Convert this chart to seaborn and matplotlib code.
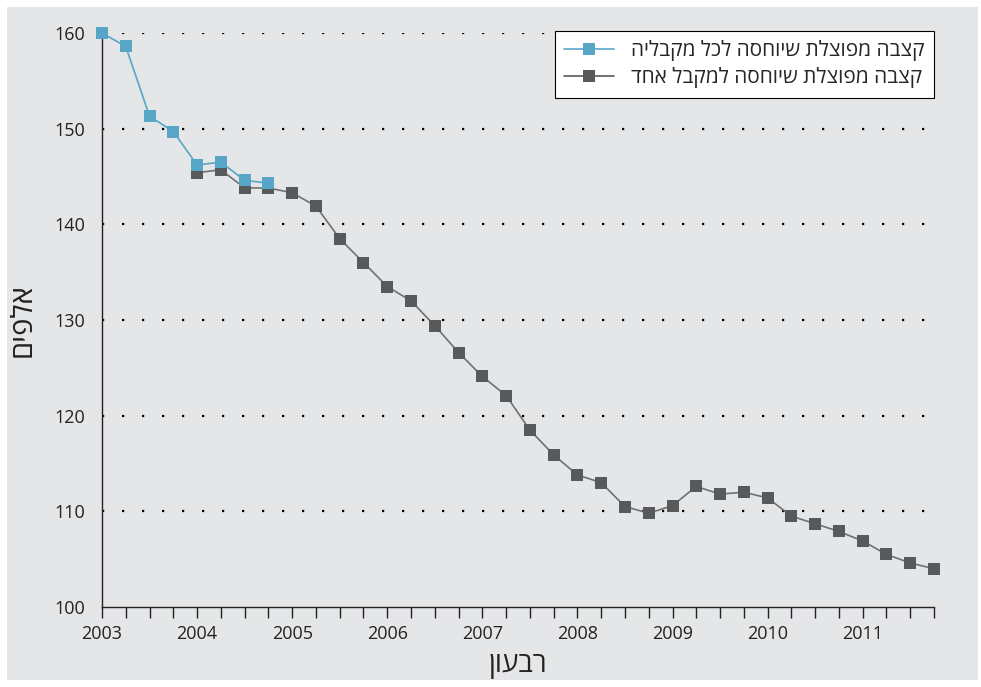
import numpy as np
import pandas as pd
import matplotlib
matplotlib.use('Agg')
import matplotlib.pyplot as plt
from matplotlib.patches import Rectangle
from matplotlib.ticker import MultipleLocator
import seaborn as sns

# quarterly values, thousands
s1_label = 'קצבה מפוצלת שיוחסה לכל מקבליה'
s1_start = 2003.0
s1_values = [160.0, 158.6, 151.3, 149.7, 146.2, 146.5, 144.6, 144.3]

s2_label = 'קצבה מפוצלת שיוחסה למקבל אחד'
s2_start = 2004.0
s2_values = [145.4, 145.7, 143.8, 143.8, 143.3, 141.9, 138.5, 136.0,
             133.5, 132.0, 129.4, 126.6, 124.1, 122.1, 118.5, 115.9,
             113.8, 113.0, 110.5, 109.8, 110.6, 112.6, 111.8, 112.0,
             111.4, 109.5, 108.7, 107.9, 106.9, 105.5, 104.6, 104.0]

year_ticks = [2003, 2004, 2005, 2006, 2007, 2008, 2009, 2010, 2011]
y_ticks = [100, 110, 120, 130, 140, 150, 160]
x_title = 'רבעון'
y_title = 'אלפים'


def rtl(s):
    # matplotlib has no bidi support, so flip hebrew to visual order
    return s[::-1]


def quarters(start, n):
    return [start + i / 4 for i in range(n)]


df = pd.concat([
    pd.DataFrame({'x': quarters(s1_start, len(s1_values)), 'y': s1_values, 'series': rtl(s1_label)}),
    pd.DataFrame({'x': quarters(s2_start, len(s2_values)), 'y': s2_values, 'series': rtl(s2_label)}),
])

sns.set_style('white')
plt.rcParams['font.family'] = ['Open Sans', 'DejaVu Sans']

bg = '#e5e6e8'
blue = '#57a6c8'
dark = '#58595b'

fig = plt.figure(figsize=(9.81, 6.87), dpi=100, facecolor='white')
fig.patches.append(Rectangle((7 / 981, 7 / 687), 971 / 981, 673 / 687,
                             transform=fig.transFigure, facecolor=bg,
                             edgecolor='none', zorder=-10))
ax = fig.add_axes([102 / 981, 80 / 687, 832 / 981, 574 / 687])
ax.set_facecolor(bg)

sns.lineplot(data=df, x='x', y='y', hue='series',
             palette={rtl(s1_label): blue, rtl(s2_label): dark},
             hue_order=[rtl(s1_label), rtl(s2_label)],
             marker='s', markersize=9, markeredgewidth=0,
             linewidth=1.2, ax=ax, clip_on=False)
# lines a bit lighter than the markers
ax.lines[1].set_color('#6f7072')
ax.lines[1].set_markerfacecolor(dark)
ax.lines[1].set_markeredgecolor(dark)
ax.lines[1].set_zorder(3)
ax.lines[0].set_zorder(4)

ax.set_xlim(2003, 2011.75)
ax.set_ylim(100, 160)
ax.set_xticks(year_ticks)
ax.set_xticklabels([str(y) for y in year_ticks])
ax.xaxis.set_minor_locator(MultipleLocator(0.25))
ax.set_yticks(y_ticks)

for y in y_ticks[1:]:
    ax.axhline(y, color='black', linestyle=(0, (1, 8)), linewidth=1.6, zorder=1)

for side in ['top', 'right']:
    ax.spines[side].set_visible(False)
for side in ['left', 'bottom']:
    ax.spines[side].set_color('#222222')
    ax.spines[side].set_linewidth(1.0)

ax.tick_params(axis='x', which='both', bottom=True, direction='out', length=8,
               width=1, color='#222222', labelsize=13, labelcolor='#222222', pad=5)
ax.tick_params(axis='y', which='both', length=0, labelsize=13,
               labelcolor='#222222', pad=12)

ax.set_xlabel(rtl(x_title), fontsize=20, labelpad=6, color='#222222')
ax.set_ylabel(rtl(y_title), fontsize=21, labelpad=12, color='#222222')

handles, labels = ax.get_legend_handles_labels()
leg = ax.legend(handles, labels, loc='upper right', bbox_to_anchor=(1.0, 1.004),
                borderaxespad=0, markerfirst=True, fontsize=15, frameon=True,
                fancybox=False, edgecolor='black', facecolor='white',
                framealpha=1, handlelength=2.4, handletextpad=0.8,
                borderpad=0.45, labelspacing=0.3)
leg.get_frame().set_linewidth(0.8)
for h, c in zip(leg.legend_handles, [blue, dark]):
    h.set_markerfacecolor(c)
    h.set_markeredgecolor(c)

fig.savefig('out.png', dpi=100, facecolor='white')
